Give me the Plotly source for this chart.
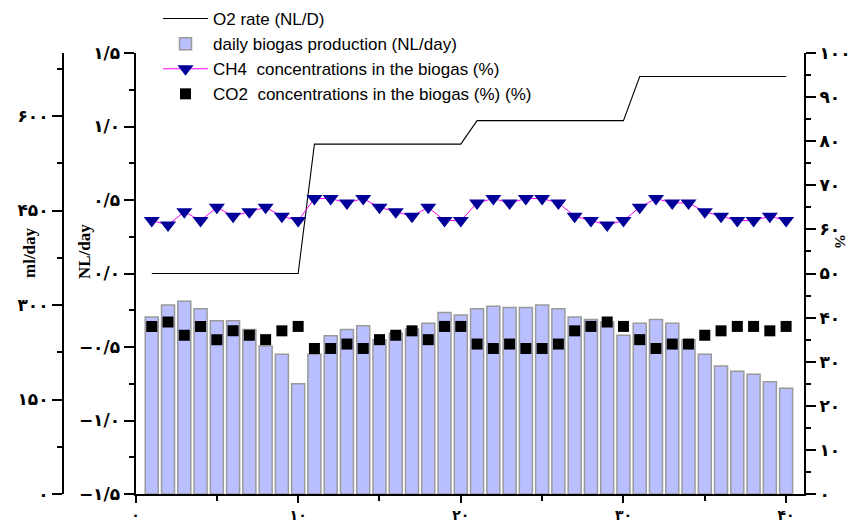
import plotly.graph_objects as go

# ---------------- data ----------------
days = [1, 2, 3, 4, 5, 6, 7, 8, 9, 10, 11, 12, 13, 14, 15, 16, 17, 18, 19, 20,
        21, 22, 23, 24, 25, 26, 27, 28, 29, 30, 31, 32, 33, 34, 35, 36, 37, 38, 39, 40]

biogas_ml_day = [281, 300, 306, 294, 275, 275, 261, 235, 222, 175,
                 222, 251, 261, 267, 245, 255, 262, 271, 288, 284,
                 294, 298, 296, 296, 300, 294, 281, 277, 273, 252,
                 271, 277, 271, 245, 222, 203, 195, 190, 178, 168]

o2_rate = [0, 0, 0, 0, 0, 0, 0, 0, 0, 0,
           0.88, 0.88, 0.88, 0.88, 0.88, 0.88, 0.88, 0.88, 0.88, 0.88,
           1.04, 1.04, 1.04, 1.04, 1.04, 1.04, 1.04, 1.04, 1.04, 1.04,
           1.34, 1.34, 1.34, 1.34, 1.34, 1.34, 1.34, 1.34, 1.34, 1.34]

ch4_pct = [62, 61, 64, 62, 65, 63, 64, 65, 63, 62,
           67, 67, 66, 67, 65, 64, 63, 65, 62, 62,
           66, 67, 66, 67, 67, 66, 63, 62, 61, 62,
           65, 67, 66, 66, 64, 63, 62, 62, 63, 62]

co2_pct = [38, 39, 36, 38, 35, 37, 36, 35, 37, 38,
           33, 33, 34, 33, 35, 36, 37, 35, 38, 38,
           34, 33, 34, 33, 33, 34, 37, 38, 39, 38,
           35, 33, 34, 34, 36, 37, 38, 38, 37, 38]

x_tickvals = [0, 10, 20, 30, 40]
x_ticktext = ["۰", "۱۰", "۲۰", "۳۰", "۴۰"]
ml_tickvals = [0, 150, 300, 450, 600]
ml_ticktext = ["۰", "۱۵۰", "۳۰۰", "۴۵۰", "۶۰۰"]
nl_tickvals = [-1.5, -1.0, -0.5, 0.0, 0.5, 1.0, 1.5]
nl_ticktext = ["−۱/۵", "−۱/۰", "−۰/۵", "۰/۰", "۰/۵", "۱/۰", "۱/۵"]
pct_tickvals = [0, 10, 20, 30, 40, 50, 60, 70, 80, 90, 100]
pct_ticktext = ["۰", "۱۰", "۲۰", "۳۰", "۴۰", "۵۰", "۶۰", "۷۰", "۸۰", "۹۰", "۱۰۰"]

# ---------------- layout geometry (page body margin is removed below) ----------------
W, H = 856, 524
X0, X1 = 135.5, 804.0
YTOP, YBOT = 53.0, 494.0
ydom = [(H - YBOT) / H, (H - YTOP) / H]

tickfont = dict(family="DejaVu Sans", size=17, color="black", weight="bold")
xtickfont = dict(family="DejaVu Sans", size=14, color="black", weight="bold")
axis_common = dict(showline=True, linewidth=2, linecolor="black", ticks="outside",
                   tickwidth=2, tickcolor="black", showgrid=False, zeroline=False,
                   automargin=False)
minor_common = dict(ticks="outside", ticklen=5, tickwidth=2, tickcolor="black")

fig = go.Figure()
fig.add_trace(go.Bar(
    x=days, y=biogas_ml_day, name="daily biogas production (NL/day)",
    marker=dict(color="#b9bfff", line=dict(color="#9a9a9a", width=1.5)),
    width=0.8, yaxis="y", legendrank=2))
fig.add_trace(go.Scatter(
    x=days, y=o2_rate, mode="lines", name="O2 rate (NL/D)",
    line=dict(color="black", width=1.1), yaxis="y2", legendrank=1))
fig.add_trace(go.Scatter(
    x=days, y=ch4_pct, mode="lines+markers",
    name="CH4\u00a0 concentrations in the biogas (%)",
    line=dict(color="#ff00ff", width=1),
    marker=dict(symbol="triangle-down", size=14, color="#000099"),
    yaxis="y3", legendrank=3))
fig.add_trace(go.Scatter(
    x=days, y=co2_pct, mode="markers",
    name="CO2\u00a0 concentrations in the biogas (%) (%)",
    marker=dict(symbol="square", size=11, color="black"),
    yaxis="y3", legendrank=4))

fig.update_layout(
    width=W, height=H,
    margin=dict(l=0, r=0, t=0, b=0),
    plot_bgcolor="white", paper_bgcolor="white",
    showlegend=True,
    legend=dict(x=158 / W, y=1 - 1 / H, xanchor="left", yanchor="top",
                bgcolor="rgba(0,0,0,0)", font=dict(family="Liberation Sans", size=17, color="black"),
                itemwidth=45, tracegroupgap=0),
    xaxis=dict(domain=[X0 / W, X1 / W], range=[0, 41.1], anchor="y",
               tickvals=x_tickvals, ticktext=x_ticktext, ticklen=7, tickfont=xtickfont,
               minor=dict(tickvals=[5, 15, 25, 35], **minor_common),
               **axis_common),
    yaxis=dict(domain=ydom, range=[0, 700], anchor="free", position=63 / W, side="left",
               tickvals=ml_tickvals, ticktext=ml_ticktext, ticklen=10, tickfont=tickfont,
               minor=dict(tickvals=[75, 225, 375, 525, 675], **minor_common),
               **axis_common),
    yaxis2=dict(overlaying="y", anchor="x", side="left", range=[-1.5, 1.5],
                tickvals=nl_tickvals, ticktext=nl_ticktext, ticklen=10, tickfont=tickfont,
                minor=dict(tickvals=[-1.25, -0.75, -0.25, 0.25, 0.75, 1.25], **minor_common),
                **axis_common),
    yaxis3=dict(overlaying="y", anchor="x", side="right", range=[0, 100],
                tickvals=pct_tickvals, ticktext=pct_ticktext, ticklen=10, tickfont=tickfont,
                minor=dict(tickvals=[5, 15, 25, 35, 45, 55, 65, 75, 85, 95], **minor_common),
                **axis_common),
    annotations=[
        dict(text="<b>ml/day</b>", x=29 / W, y=1 - 252 / H, xref="paper", yref="paper",
             xanchor="center", yanchor="middle",
             showarrow=False, textangle=-90, font=dict(family="Liberation Serif", size=17, color="black")),
        dict(text="<b>NL/day</b>", x=84 / W, y=1 - 252 / H, xref="paper", yref="paper",
             xanchor="center", yanchor="middle",
             showarrow=False, textangle=-90, font=dict(family="Liberation Serif", size=17, color="black")),
        dict(text="<b>%</b>", x=840 / W, y=1 - 241 / H, xref="paper", yref="paper",
             xanchor="center", yanchor="middle",
             showarrow=False, textangle=90, font=dict(family="Liberation Serif", size=15, color="black")),
    ],
)

fig.write_html("out.html",
               config={"displayModeBar": False},
               post_script="document.body.style.margin='0';document.body.style.overflow='hidden';")
